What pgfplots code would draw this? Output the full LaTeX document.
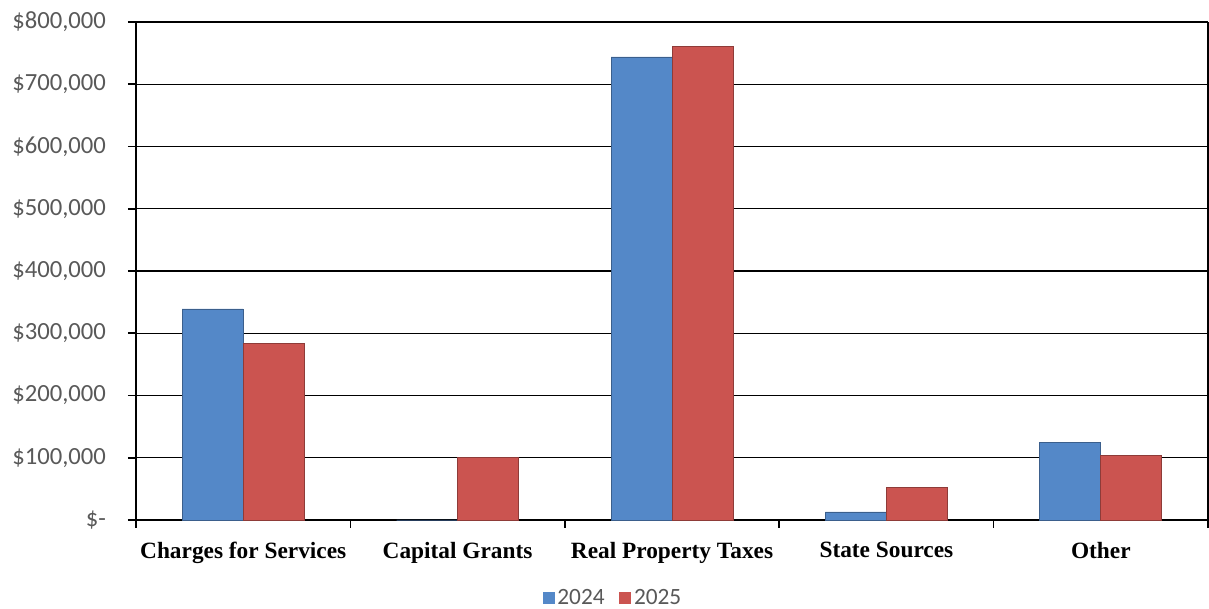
\documentclass[border=0pt]{standalone}
\usepackage{pgfplots}
\pgfplotsset{compat=1.18}
\usepackage{fontspec}
\setmainfont{Carlito}
\newfontfamily\catfont{Liberation Serif}
\definecolor{bar24}{RGB}{84,136,200}
\definecolor{bar25}{RGB}{203,84,80}
\definecolor{ticktxt}{RGB}{89,89,89}

\begin{document}
\begin{tikzpicture}
  \path[use as bounding box] (0,0) rectangle (906.75pt,456.75pt);
  \begin{axis}[
    at={(102pt,66.75pt)}, anchor=south west,
    scale only axis,
    width=804pt, height=373.5pt,
    ybar=0pt,
    bar width=45.75pt,
    xmin=-0.5, xmax=4.5,
    ymin=0, ymax=800000,
    scaled y ticks=false,
    /pgf/number format/assume math mode=true,
    xtick={0,1,2,3,4},
    xticklabels={Charges for Services,Capital Grants,Real Property Taxes,State Sources,Other},
    minor xtick={-0.5,0.5,1.5,2.5,3.5,4.5},
    major x tick style={draw=none},
    minor tick length=6pt,
    xticklabel style={font=\catfont\bfseries\fontsize{17.5}{20}\selectfont, yshift=-7pt},
    ytick={0,100000,...,800000},
    yticklabels={{\$-},{\$100,000},{\$200,000},{\$300,000},{\$400,000},{\$500,000},{\$600,000},{\$700,000},{\$800,000}},
    yticklabel style={font=\fontsize{18.5}{21}\selectfont, text=ticktxt, xshift=-13pt},
    major tick length=6pt,
    tick align=outside,
    tick style={black, line width=1.2pt},
    ymajorgrids=true,
    grid style={black, line width=1pt},
    axis line style={black, line width=1.5pt},
    axis x line*=bottom,
    axis y line*=left,
    legend style={at={(rel axis cs:0.5,0)}, xshift=-44pt, yshift=-58.5pt, anchor=center,
      draw=none, legend columns=-1, font=\fontsize{17.5}{20}\selectfont, text=ticktxt,
      /tikz/every even column/.append style={column sep=9pt}},
    legend image code/.code={\draw[#1, draw=none] (0pt,-4.5pt) rectangle (9pt,4.5pt);},
    clip=false,
  ]
    \addplot[fill=bar24, draw=bar24!70!black, line width=0.5pt] coordinates {
      (0,339000) (1,0) (2,744000) (3,13000) (4,124000)
    };
    \addplot[fill=bar25, draw=bar25!70!black, line width=0.5pt] coordinates {
      (0,284000) (1,101000) (2,761000) (3,52000) (4,104000)
    };
    \legend{2024,2025}
    \draw[black, line width=1.5pt] (rel axis cs:1,0) -- (rel axis cs:1,1);
  \end{axis}
\end{tikzpicture}
\end{document}
